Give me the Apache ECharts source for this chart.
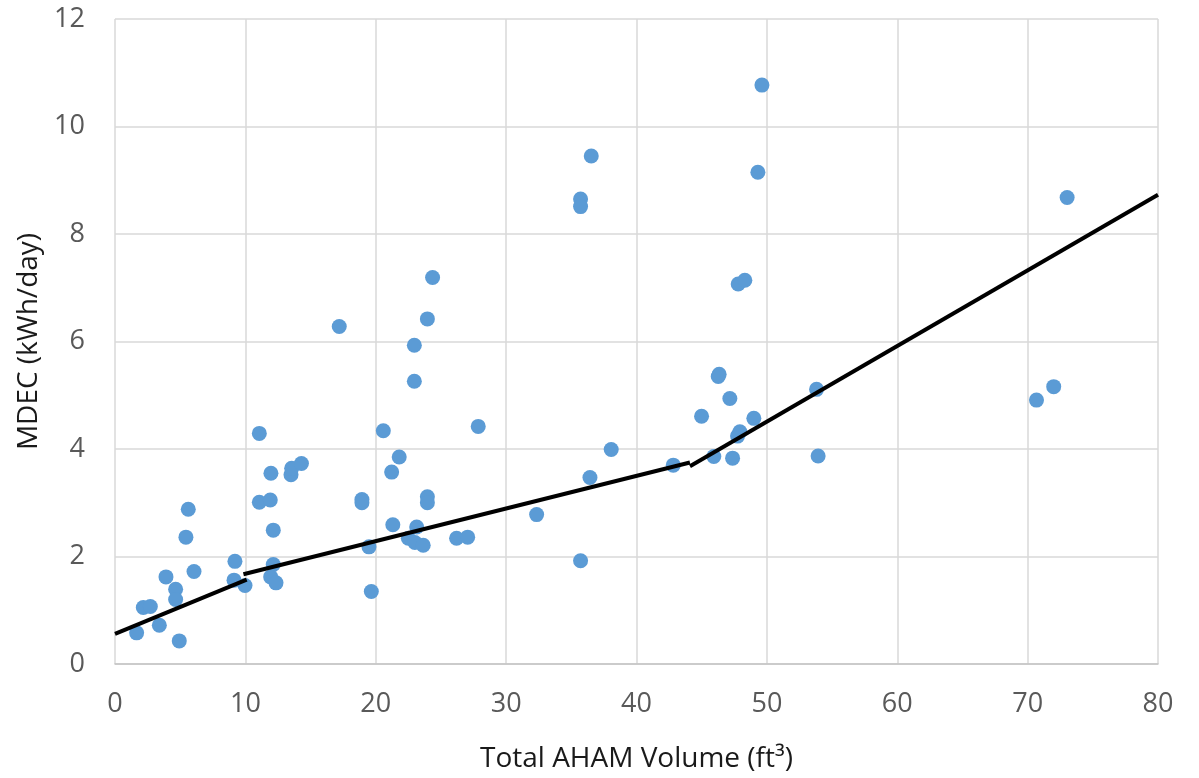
<!DOCTYPE html>
<html lang="en">
<head>
<meta charset="UTF-8">
<title>MDEC vs Total AHAM Volume</title>
<script src="https://cdn.jsdelivr.net/npm/echarts@6/dist/echarts.min.js"></script>
<style>
  html, body { margin: 0; padding: 0; background: #fff; }
</style>
</head>
<body>
<div id="main" style="width: 1199px;height: 778px"></div>
<script>
  // measured points: total AHAM volume (ft3) and MDEC (kWh/day)
  const volume = [
    1.66, 2.17, 2.71, 3.4, 3.91, 4.65, 4.65, 4.93, 5.44, 5.62, 6.06,
    9.13, 9.2, 9.97, 11.07, 11.07, 11.91, 11.96, 12.14, 12.14, 11.94, 12.35,
    13.5, 13.55, 14.3, 17.2, 18.94, 18.94, 19.48, 19.66, 20.58, 21.22, 21.31,
    21.8, 22.5, 23.0, 23.64, 23.14, 22.96, 22.96, 23.96, 24.36, 23.96, 23.96,
    26.2, 27.05, 27.86, 32.34, 35.71, 35.71, 36.53, 35.71, 36.43, 38.06,
    42.82, 44.99, 45.93, 46.34, 46.27, 47.16, 47.37, 47.75, 47.93, 47.8, 48.31,
    49.0, 49.31, 49.62, 53.81, 53.93, 70.68, 72.0, 73.03
  ];
  const mdec = [
    0.58, 1.05, 1.07, 0.72, 1.62, 1.39, 1.2, 0.43, 2.36, 2.88, 1.72,
    1.56, 1.91, 1.46, 4.29, 3.01, 3.05, 3.55, 2.49, 1.85, 1.62, 1.51,
    3.52, 3.64, 3.73, 6.28, 3.06, 3.0, 2.18, 1.35, 4.34, 3.57, 2.59,
    3.85, 2.34, 2.26, 2.21, 2.55, 5.93, 5.26, 6.42, 7.19, 3.11, 3.0,
    2.34, 2.36, 4.42, 2.78, 8.65, 8.51, 9.45, 1.92, 3.47, 3.99,
    3.7, 4.61, 3.86, 5.39, 5.35, 4.94, 3.83, 4.24, 4.32, 7.07, 7.14,
    4.57, 9.15, 10.77, 5.11, 3.87, 4.91, 5.16, 8.68
  ];
  // piecewise trend lines [x, y]
  const trendLow = [[0, 0.56], [10.1, 1.57]];
  const trendMid = [[9.85, 1.67], [44.1, 3.75]];
  const trendHigh = [[44.1, 3.68], [80, 8.73]];

  const xTicks = { min: 0, max: 80, interval: 10 };
  const yTicks = { min: 0, max: 12, interval: 2 };

  const points = volume.map(function (v, i) { return [v, mdec[i]]; });

  const chart = echarts.init(document.getElementById('main'));
  const fontFamily = "'Open Sans', 'Noto Sans', sans-serif";
  const gridColor = '#d9d9d9';

  function trend(data) {
    return {
      type: 'line',
      data: data,
      symbol: 'none',
      z: 5,
      silent: true,
      animation: false,
      lineStyle: { color: '#000', width: 4 }
    };
  }

  chart.setOption({
    animation: false,
    textStyle: { fontFamily: fontFamily },
    grid: { left: 115, right: 41, top: 19, bottom: 114, containLabel: false },
    xAxis: {
      type: 'value',
      min: xTicks.min, max: xTicks.max, interval: xTicks.interval,
      name: 'Total AHAM Volume (ft³)',
      nameLocation: 'middle',
      nameGap: 81,
      nameTextStyle: { fontSize: 28, color: '#1a1a1a', fontFamily: fontFamily },
      axisLine: { show: true, lineStyle: { color: '#c4c4c4', width: 1.5 } },
      axisTick: { show: false },
      axisLabel: { fontSize: 27, color: '#595959', margin: 27, fontFamily: fontFamily },
      splitLine: { show: true, lineStyle: { color: gridColor, width: 1.5 } }
    },
    yAxis: {
      type: 'value',
      min: yTicks.min, max: yTicks.max, interval: yTicks.interval,
      name: 'MDEC (kWh/day)',
      nameLocation: 'middle',
      nameGap: 68,
      nameTextStyle: { fontSize: 28, color: '#1a1a1a', fontFamily: fontFamily },
      axisLine: { show: false },
      axisTick: { show: false },
      axisLabel: { fontSize: 27, color: '#595959', margin: 30, fontFamily: fontFamily },
      splitLine: { show: true, lineStyle: { color: gridColor, width: 1.5 } }
    },
    series: [
      {
        type: 'scatter',
        data: points,
        symbolSize: 15,
        z: 3,
        itemStyle: { color: '#5b9bd5', opacity: 1 }
      },
      trend(trendLow),
      trend(trendMid),
      trend(trendHigh)
    ]
  });
</script>
</body>
</html>
